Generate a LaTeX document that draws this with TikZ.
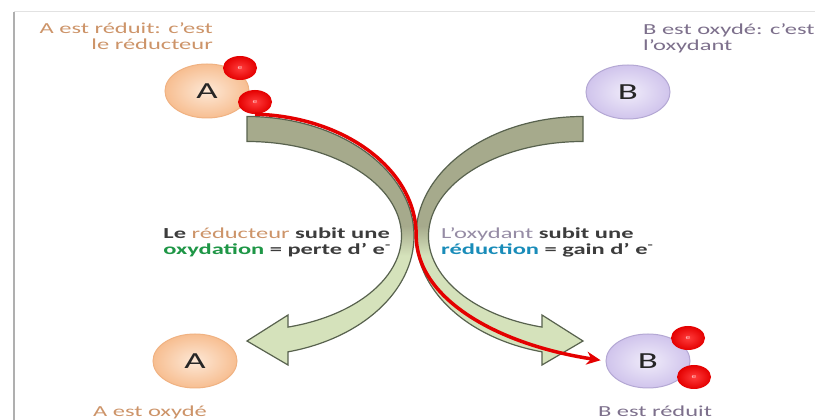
\documentclass[tikz,border=0pt]{standalone}
\usepackage{fontspec}
\setmainfont{Carlito}[FakeStretch=1.6]
\usetikzlibrary{shapes.geometric,arrows.meta}
\definecolor{arrdark}{RGB}{166,170,140}
\definecolor{arrlight}{RGB}{213,226,187}
\definecolor{arredge}{RGB}{88,98,78}
\definecolor{eRed}{RGB}{228,0,0}
\definecolor{eRedIn}{RGB}{255,60,60}
\definecolor{eDot}{RGB}{255,200,200}
\definecolor{tanA}{RGB}{205,148,105}
\definecolor{purB}{RGB}{125,112,140}
\definecolor{lightpur}{RGB}{150,140,165}
\definecolor{darktxt}{RGB}{60,60,60}
\definecolor{oxgreen}{RGB}{30,150,70}
\definecolor{redblue}{RGB}{25,140,185}
\definecolor{peachIn}{RGB}{253,232,214}
\definecolor{peachOut}{RGB}{247,190,145}
\definecolor{peachEdge}{RGB}{240,178,130}
\definecolor{lavIn}{RGB}{240,236,250}
\definecolor{lavOut}{RGB}{208,196,236}
\definecolor{lavEdge}{RGB}{180,168,212}
\definecolor{frameDark}{RGB}{175,175,175}
\definecolor{frameLight}{RGB}{226,226,226}
\pgfdeclareverticalshading{arrowshade}{100bp}{color(0bp)=(arrlight); color(47bp)=(arrlight); color(53bp)=(arrdark); color(100bp)=(arrdark)}
\tikzset{
  curvarrow/.style={shade, shading=arrowshade, draw=arredge, line width=1.2pt},
  molA/.style={ellipse, minimum width=84pt, minimum height=54pt, inner sep=0pt,
    inner color=peachIn, outer color=peachOut, draw=peachEdge, line width=1pt,
    font=\fontsize{23}{23}\selectfont, text=black!85},
  molB/.style={molA, inner color=lavIn, outer color=lavOut, draw=lavEdge},
  elec/.style={ellipse, minimum width=34pt, minimum height=24pt, inner sep=0pt,
    inner color=eRedIn, outer color=eRed, text=eDot, font=\fontsize{6}{6}\selectfont},
  redline/.style={draw=eRed, line width=3.5pt, -{Stealth[length=14pt,width=13pt]}, shorten >=5pt},
  biglbl/.style={inner sep=0pt, font=\fontsize{15.3}{16}\selectfont},
  midlbl/.style={inner sep=0pt, align=left, text=darktxt, font=\fontsize{15.3}{16}\selectfont}
}
\begin{document}
\begin{tikzpicture}[x=1pt,y=1pt]
\useasboundingbox (0,0) rectangle (815,420);
\fill[white] (0,0) rectangle (815,420);
% frame
\draw[frameLight, line width=1pt] (14,408) -- (815,408);
\draw[frameDark, line width=2pt] (14,0) -- (14,408);
% curved arrows
\path[curvarrow] (247,303.5) arc[start angle=90,end angle=-75.79,x radius=167,y radius=119.5]
  -- (288,55) -- (247,79) -- (288,105) -- (288,92.9)
  arc[start angle=-74.61,end angle=90,x radius=154.5,y radius=94.5] -- cycle;
\path[curvarrow] (583,303.5) arc[start angle=90,end angle=255.79,x radius=167,y radius=119.5]
  -- (542,55) -- (583,79) -- (542,105) -- (542,92.9)
  arc[start angle=254.61,end angle=90,x radius=154.5,y radius=94.5] -- cycle;
% molecules
\node[molA] (At) at (207,329) {A};
\node[molB] (Bt) at (628,328) {B};
\node[molA] (Ab) at (195,59) {A};
\node[molB] (Bb) at (648,59) {B};
% electrons
\node[elec] (e1) at (240,352) {e};
\node[elec] (e2) at (255,318) {e};
\node[elec] (e3) at (688,82) {e};
\node[elec] (e4) at (694,43) {e};
% electron path
\draw[redline] (e2.south) arc[start angle=88,end angle=0,x radius=167,y radius=121]
  coordinate (cross)
  .. controls (416,120) and (500,75) .. (Bb.west);
% labels
\node[biglbl, text=tanA, align=right, anchor=east] (tA) at (213,384) {A est réduit: c’est\\le réducteur};
\node[biglbl, text=purB, align=left, anchor=west] (tB) at (643,382) {B est oxydé: c’est\\l’oxydant};
\node[biglbl, text=tanA, anchor=base] (tAb) at (150,3) {A est oxydé};
\node[biglbl, text=purB, anchor=base] (tBb) at (655,3) {B est réduit};
\node[midlbl, anchor=east] (mL) at (391,178) {\textbf{Le} \textcolor{tanA}{réducteur} \textbf{subit une}\\\textbf{\textcolor{oxgreen}{oxydation} = perte d’ e\textsuperscript{-}}};
\node[midlbl, anchor=west] (mR) at (441,178) {\textcolor{lightpur}{L’oxydant} \textbf{subit une}\\\textbf{\textcolor{redblue}{réduction} = gain d’ e\textsuperscript{-}}};
\end{tikzpicture}
\end{document}
